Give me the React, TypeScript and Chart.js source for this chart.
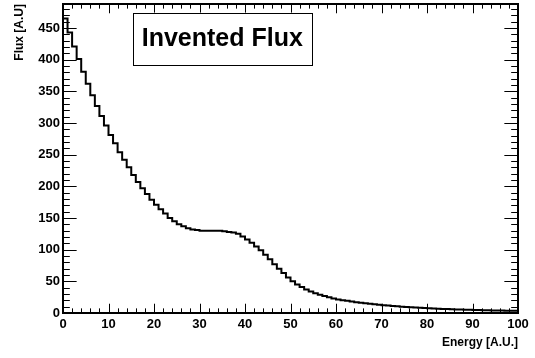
import React, { useEffect, useRef } from "react";
import { Chart, registerables } from "chart.js";

Chart.register(...registerables);

// Histogram: 100 bins of width 1 from 0 to 100
const binEdges: number[] = Array.from({ length: 101 }, (_, i) => i);
const fluxValues: number[] = [
  465, 443, 421, 401, 381, 362, 344, 327, 311, 296,
  281, 268, 254, 242, 230, 218, 207, 197, 188, 179,
  171, 164, 157, 150, 145, 140, 137, 134, 132, 131,
  130, 130, 130, 130, 130, 129, 128, 127, 125, 121,
  116, 111, 105, 99, 92, 85, 77, 70, 63, 56,
  50, 45, 41, 37, 34, 31, 29, 27, 25, 23,
  21.5, 20.3, 19.2, 18.1, 17.1, 16.2, 15.3, 14.5, 13.7, 13,
  12.3, 11.7, 11.1, 10.5, 10, 9.5, 9, 8.6, 8.2, 7.8,
  7.4, 7.1, 6.8, 6.5, 6.2, 5.9, 5.7, 5.4, 5.2, 5,
  4.8, 4.6, 4.4, 4.3, 4.1, 4, 3.8, 3.7, 3.5, 3.4,
];

const xMajorTicks: number[] = [0, 10, 20, 30, 40, 50, 60, 70, 80, 90, 100];
const xMinorStep = 2;
const yMajorTicks: number[] = [0, 50, 100, 150, 200, 250, 300, 350, 400, 450];
const yMinorStep = 10;
const X_MIN = 0;
const X_MAX = 100;
const Y_MIN = 0;
const Y_MAX = 488;

const TITLE_TEXT = "Invented Flux";
const X_TITLE = "Energy [A.U.]";
const Y_TITLE = "Flux [A.U]";
const FONT = "'Liberation Sans', Arial, Helvetica, sans-serif";

const rootFramePlugin = {
  id: "rootFrame",
  afterDraw(chart: any) {
    const { ctx, chartArea } = chart;
    const xs = chart.scales.x;
    const ys = chart.scales.y;
    const { left, right, top, bottom } = chartArea;
    const w = right - left;
    const h = bottom - top;
    const yMajLen = 0.03 * w;
    const xMajLen = 0.03 * h;
    ctx.save();
    ctx.strokeStyle = "#000";
    ctx.lineWidth = 1;
    ctx.beginPath();
    // x ticks (bottom and top)
    for (let v = X_MIN; v <= X_MAX + 1e-9; v += xMinorStep) {
      const isMajor = xMajorTicks.includes(v);
      const len = isMajor ? xMajLen : xMajLen / 2;
      const px = Math.round(xs.getPixelForValue(v)) + 0.5;
      ctx.moveTo(px, bottom);
      ctx.lineTo(px, bottom - len);
      ctx.moveTo(px, top);
      ctx.lineTo(px, top + len);
    }
    // y ticks (left and right)
    for (let v = Y_MIN; v <= Y_MAX + 1e-9; v += yMinorStep) {
      const isMajor = yMajorTicks.includes(v);
      const len = isMajor ? yMajLen : yMajLen / 2;
      const py = Math.round(ys.getPixelForValue(v)) + 0.5;
      ctx.moveTo(left, py);
      ctx.lineTo(left + len, py);
      ctx.moveTo(right, py);
      ctx.lineTo(right - len, py);
    }
    ctx.stroke();
    // frame
    ctx.lineWidth = 2;
    ctx.strokeRect(left, top, w, h);

    // title box
    ctx.font = `bold 25px ${FONT}`;
    const tw = ctx.measureText(TITLE_TEXT).width;
    const cx = left + 0.35 * w;
    const cy = top + 0.112 * h;
    const bw = tw + 18;
    const bh = 52;
    ctx.fillStyle = "#fff";
    ctx.fillRect(cx - bw / 2, cy - bh / 2, bw, bh);
    ctx.lineWidth = 1;
    ctx.strokeRect(Math.round(cx - bw / 2) + 0.5, Math.round(cy - bh / 2) + 0.5, Math.round(bw), bh);
    ctx.fillStyle = "#000";
    ctx.textAlign = "center";
    ctx.textBaseline = "middle";
    ctx.fillText(TITLE_TEXT, cx, cy + 1);
    ctx.restore();
  },
};

export default function App() {
  const canvasRef = useRef<HTMLCanvasElement | null>(null);

  useEffect(() => {
    if (!canvasRef.current) return;
    const points = fluxValues.map((v, i) => ({ x: binEdges[i], y: v }));
    points.push({ x: binEdges[fluxValues.length], y: fluxValues[fluxValues.length - 1] });

    const chart = new Chart(canvasRef.current, {
      type: "line",
      data: {
        datasets: [
          {
            data: points,
            stepped: true,
            borderColor: "#000",
            borderWidth: 2,
            pointRadius: 0,
            fill: false,
          },
        ],
      },
      options: {
        responsive: false,
        animation: false,
        layout: { padding: { top: 4, right: 17, left: 0, bottom: 0 } },
        plugins: { legend: { display: false }, tooltip: { enabled: false } },
        scales: {
          x: {
            type: "linear",
            min: X_MIN,
            max: X_MAX,
            grid: { display: false, drawTicks: false },
            border: { display: false },
            ticks: {
              stepSize: 10,
              includeBounds: false,
              color: "#000",
              padding: 4,
              maxRotation: 0,
              font: { family: FONT, size: 13, weight: "bold" },
            },
            title: {
              display: true,
              text: X_TITLE,
              align: "end",
              color: "#000",
              padding: { top: 0, bottom: 8 },
              font: { family: FONT, size: 12, weight: "bold" },
            },
            afterFit(scale: any) {
              scale.height = 45;
              scale.paddingLeft = 0;
              scale.paddingRight = 0;
            },
          },
          y: {
            type: "linear",
            min: Y_MIN,
            max: Y_MAX,
            grid: { display: false, drawTicks: false },
            border: { display: false },
            ticks: {
              stepSize: 50,
              includeBounds: false,
              color: "#000",
              padding: 3,
              font: { family: FONT, size: 13, weight: "bold" },
            },
            title: {
              display: true,
              text: Y_TITLE,
              align: "end",
              color: "#000",
              padding: { top: 12, bottom: 0 },
              font: { family: FONT, size: 12, weight: "bold" },
            },
            afterFit(scale: any) {
              scale.width = 63;
              scale.paddingTop = 0;
              scale.paddingBottom = 0;
            },
          },
        },
      },
      plugins: [rootFramePlugin],
    });
    return () => chart.destroy();
  }, []);

  return (
    <div style={{ position: "fixed", left: 0, top: 0, width: 535, height: 358, background: "#fff" }}>
      <canvas ref={canvasRef} width={535} height={358} />
    </div>
  );
}
